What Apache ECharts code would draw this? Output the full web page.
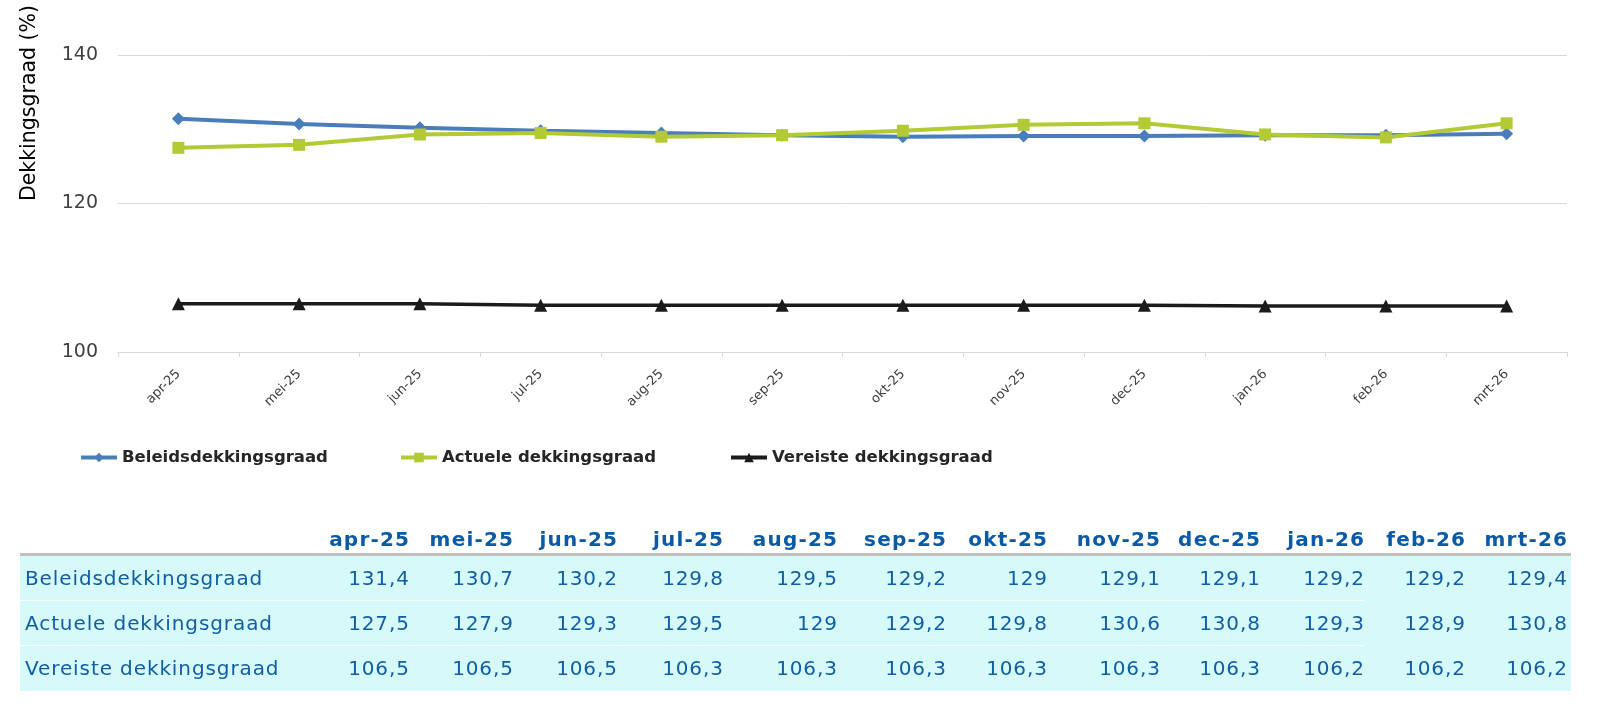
<!DOCTYPE html>
<html>
<head>
<meta charset="utf-8">
<script src="https://cdn.jsdelivr.net/npm/echarts@6/dist/echarts.min.js"></script>
<style>
  html, body { margin:0; padding:0; background:#ffffff; }
  #chart { position:absolute; left:0; top:0; width:1597px; height:707px; }
  #tbl { position:absolute; left:20px; top:525px; border-collapse:collapse; table-layout:fixed; font-family:'DejaVu Sans', Verdana, sans-serif; }
  #tbl th { height:28px; padding:0; font-size:20px; font-weight:bold; color:#0b5aa6; letter-spacing:1.2px; text-align:right; vertical-align:middle; border-bottom:3px solid #bfbfbf; white-space:nowrap; }
  #tbl th span { margin-right:-1.2px; }
  #tbl td { height:44px; padding:0; font-size:20px; color:#115ea2; letter-spacing:0.9px; text-align:right; vertical-align:middle; background:#d6fafa; white-space:nowrap; border-bottom:1px solid #d6fafa; }
  #tbl td span { margin-right:-0.9px; }
  #tbl td.lbl { text-align:left; padding-left:5px; }
  #tbl td.sep { border-bottom:1px solid #ffffff; }
</style>
</head>
<body>
<div id="chart"></div>
<table id="tbl"></table>
<script>
// ---- data ----
const categories = ['apr-25','mei-25','jun-25','jul-25','aug-25','sep-25','okt-25','nov-25','dec-25','jan-26','feb-26','mrt-26'];
const seriesNames = ['Beleidsdekkingsgraad','Actuele dekkingsgraad','Vereiste dekkingsgraad'];
const beleidsdekkingsgraad = [131.4,130.7,130.2,129.8,129.5,129.2,129,129.1,129.1,129.2,129.2,129.4];
const actueleDekkingsgraad = [127.5,127.9,129.3,129.5,129,129.2,129.8,130.6,130.8,129.3,128.9,130.8];
const vereisteDekkingsgraad = [106.5,106.5,106.5,106.3,106.3,106.3,106.3,106.3,106.3,106.2,106.2,106.2];
const yTicks = { min:100, max:140, interval:20 };
const yAxisTitle = 'Dekkingsgraad (%)';

// ---- layout (not data) ----
const colWidths = [285,104,104,104,106,114,109,101,113,100,104,101,106];
const sepCols = 11; // white row separators run through the first 11 columns

const allSeries = [beleidsdekkingsgraad, actueleDekkingsgraad, vereisteDekkingsgraad];
const colors = ['#4a7ebb','#b3c935','#1b1b1b'];
const symbols = ['diamond','rect','triangle'];
const symbolSizes = [13,12,13];

const chart = echarts.init(document.getElementById('chart'), null, {renderer:'canvas'});
const legendStyle = { fontSize:16.5, fontWeight:'bold', color:'#262626', fontFamily:'DejaVu Sans' };
const legendLefts = [74, 394, 724];

chart.setOption({
  backgroundColor:'#ffffff',
  animation:false,
  grid:{ left:118, right:30, top:55, bottom:355, containLabel:false },
  graphic:[{
    type:'text', x:30, y:103, rotation:Math.PI/2,
    style:{ text:yAxisTitle, fontSize:20.5, fontFamily:'DejaVu Sans', fill:'#000000', align:'center', verticalAlign:'middle' }
  }],
  legend: legendLefts.map((l,i)=>({
    data:[seriesNames[i]], left:l, top:444, itemWidth:36, itemHeight:12, itemGap:0,
    textStyle:legendStyle, selectedMode:false,
    lineStyle:{ width:4 }
  })),
  xAxis:{
    type:'category', data:categories, boundaryGap:true,
    axisLine:{ lineStyle:{ color:'#d9d9d9', width:1 } },
    axisTick:{ show:true, length:5, lineStyle:{ color:'#d9d9d9' } },
    axisLabel:{ rotate:45, fontSize:13, color:'#404040', fontFamily:'DejaVu Sans', margin:20, interval:0 }
  },
  yAxis:{
    type:'value', min:yTicks.min, max:yTicks.max, interval:yTicks.interval,
    axisLine:{ show:false }, axisTick:{ show:false },
    splitLine:{ lineStyle:{ color:'#d9d9d9', width:1 } },
    axisLabel:{ fontSize:19, color:'#404040', fontFamily:'DejaVu Sans', margin:20 }
  },
  series: allSeries.map((d,i)=>({
    name:seriesNames[i], type:'line', data:d,
    symbol:symbols[i], symbolSize:symbolSizes[i],
    lineStyle:{ color:colors[i], width:i===2?3.5:4 },
    itemStyle:{ color:colors[i] },
    z:2+i
  }))
});

// ---- table built from the same arrays ----
const fmt = v => String(v).replace('.', ',');
const tbl = document.getElementById('tbl');
let html = '<colgroup>' + colWidths.map(w=>'<col style="width:'+w+'px">').join('') + '</colgroup>';
html += '<tr><th></th>' + categories.map((c,j)=>'<th'+(j===categories.length-1?' style="padding-right:4px"':'')+'><span>'+c+'</span></th>').join('') + '</tr>';
allSeries.forEach((arr,i)=>{
  const sep = i < allSeries.length-1;
  html += '<tr><td class="lbl'+(sep?' sep':'')+'">'+seriesNames[i]+'</td>' +
    arr.map((v,j)=>'<td class="'+(sep && j+1<sepCols?'sep':'')+'"'+(j===arr.length-1?' style="padding-right:4px"':'')+'><span>'+fmt(v)+'</span></td>').join('') + '</tr>';
});
tbl.innerHTML = html;
</script>
</body>
</html>
